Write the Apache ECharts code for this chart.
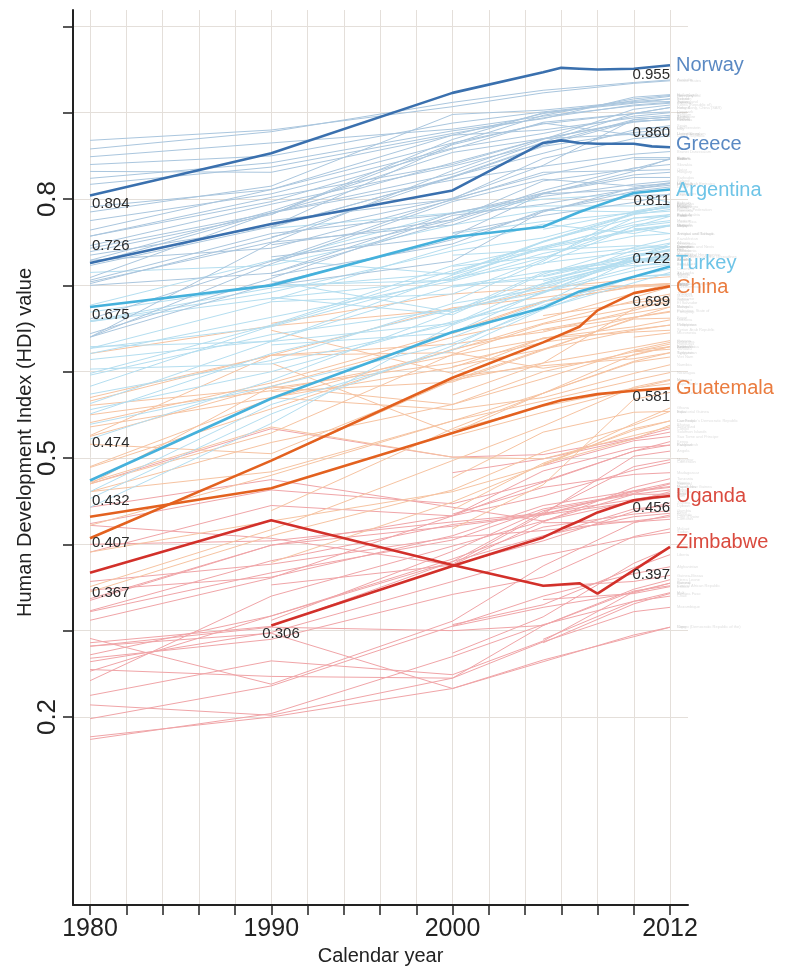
<!DOCTYPE html>
<html>
<head>
<meta charset="utf-8">
<title>HDI trends 1980-2012</title>
<script src="https://cdn.jsdelivr.net/npm/echarts@6/dist/echarts.min.js"></script>
<style>
  html, body { margin: 0; padding: 0; background: #fff; }
  #chart { width: 785px; height: 967px; }
</style>
</head>
<body>
<div id="chart"></div>
<script>
// years of the background trend lines
const years = [1980, 1990, 2000, 2005, 2010, 2012];

// [country, 1980, 1990, 2000, 2005, 2010, 2012]
const veryHigh = [
    ['Australia', 0.858, 0.878, 0.912, 0.926, 0.935, 0.938],
    ['United States', 0.868, 0.880, 0.907, 0.923, 0.934, 0.937],
    ['Netherlands', 0.824, 0.842, 0.879, 0.893, 0.918, 0.921],
    ['Germany', null, 0.782, 0.864, 0.897, 0.916, 0.920],
    ['New Zealand', 0.832, 0.831, 0.874, 0.899, 0.914, 0.919],
    ['Ireland', 0.739, 0.782, 0.869, 0.900, 0.911, 0.916],
    ['Sweden', 0.785, 0.815, 0.898, 0.903, 0.913, 0.916],
    ['Switzerland', 0.840, 0.850, 0.888, 0.901, 0.912, 0.913],
    ['Japan', 0.817, 0.837, 0.876, 0.894, 0.909, 0.912],
    ['Canada', 0.849, 0.865, 0.881, 0.896, 0.908, 0.911],
    ['Korea (Republic of)', 0.640, 0.749, 0.833, 0.869, 0.904, 0.909],
    ['Hong Kong, China (SAR)', 0.709, 0.784, 0.829, 0.866, 0.899, 0.906],
    ['Iceland', 0.757, 0.797, 0.858, 0.889, 0.899, 0.906],
    ['Denmark', 0.791, 0.811, 0.865, 0.887, 0.899, 0.901],
    ['Israel', 0.775, 0.806, 0.859, 0.876, 0.896, 0.900],
    ['Belgium', 0.764, 0.811, 0.874, 0.880, 0.894, 0.897],
    ['Austria', 0.746, 0.794, 0.838, 0.864, 0.892, 0.895],
    ['Singapore', null, 0.756, 0.801, 0.839, 0.892, 0.895],
    ['France', 0.725, 0.784, 0.842, 0.870, 0.889, 0.893],
    ['Finland', 0.757, 0.802, 0.840, 0.870, 0.890, 0.892],
    ['Slovenia', null, 0.767, 0.826, 0.862, 0.890, 0.892],
    ['Spain', 0.702, 0.755, 0.826, 0.853, 0.880, 0.885],
    ['Liechtenstein', null, null, null, null, 0.882, 0.883],
    ['Italy', 0.723, 0.768, 0.825, 0.861, 0.877, 0.881],
    ['Luxembourg', 0.729, 0.786, 0.854, 0.870, 0.875, 0.875],
    ['United Kingdom', 0.735, 0.768, 0.863, 0.888, 0.874, 0.875],
    ['Czech Republic', null, 0.775, 0.800, 0.847, 0.870, 0.873],
    ['Brunei Darussalam', 0.743, 0.784, 0.822, 0.838, 0.852, 0.855],
    ['Cyprus', 0.661, 0.728, 0.800, 0.828, 0.848, 0.848],
    ['Malta', 0.704, 0.750, 0.770, 0.806, 0.832, 0.847],
    ['Andorra', null, null, null, null, 0.846, 0.846],
    ['Estonia', null, 0.728, 0.776, 0.821, 0.835, 0.846],
    ['Slovakia', null, 0.747, 0.776, 0.810, 0.836, 0.840],
    ['Qatar', 0.729, 0.743, 0.799, 0.831, 0.833, 0.834],
    ['Hungary', 0.700, 0.714, 0.774, 0.807, 0.828, 0.831],
    ['Barbados', 0.706, 0.760, 0.783, 0.807, 0.825, 0.825],
    ['Poland', null, 0.714, 0.784, 0.803, 0.817, 0.821],
    ['Chile', 0.640, 0.702, 0.753, 0.785, 0.813, 0.819],
    ['Lithuania', null, 0.733, 0.757, 0.806, 0.811, 0.818],
    ['United Arab Emirates', 0.640, 0.725, 0.797, 0.823, 0.815, 0.818],
    ['Portugal', 0.644, 0.708, 0.781, 0.794, 0.812, 0.816],
    ['Latvia', null, 0.700, 0.728, 0.786, 0.809, 0.814],
    ['Seychelles', null, null, 0.761, 0.781, 0.796, 0.806],
    ['Croatia', null, 0.711, 0.748, 0.787, 0.804, 0.805]
];

const high = [
    ['Bahrain', 0.677, 0.729, 0.784, 0.800, 0.806, 0.796],
    ['Bahamas', null, 0.766, 0.784, 0.792, 0.792, 0.794],
    ['Belarus', null, null, 0.681, 0.728, 0.786, 0.793],
    ['Uruguay', 0.658, 0.692, 0.740, 0.755, 0.783, 0.792],
    ['Montenegro', null, null, null, 0.765, 0.785, 0.791],
    ['Palau', null, null, 0.760, 0.774, 0.784, 0.791],
    ['Kuwait', 0.715, 0.723, 0.770, 0.787, 0.785, 0.790],
    ['Russian Federation', null, 0.730, 0.713, 0.750, 0.782, 0.788],
    ['Romania', 0.669, 0.700, 0.706, 0.751, 0.783, 0.786],
    ['Bulgaria', 0.659, 0.697, 0.714, 0.751, 0.778, 0.782],
    ['Saudi Arabia', 0.583, 0.653, 0.717, 0.743, 0.773, 0.782],
    ['Cuba', 0.627, 0.681, 0.690, 0.730, 0.778, 0.780],
    ['Panama', 0.627, 0.652, 0.709, 0.725, 0.768, 0.780],
    ['Mexico', 0.598, 0.654, 0.723, 0.745, 0.770, 0.775],
    ['Costa Rica', 0.621, 0.663, 0.705, 0.732, 0.768, 0.773],
    ['Grenada', null, null, null, null, 0.765, 0.770],
    ['Libya', null, 0.683, 0.745, 0.771, 0.760, 0.769],
    ['Malaysia', 0.563, 0.635, 0.712, 0.742, 0.763, 0.769],
    ['Serbia', null, null, 0.709, 0.744, 0.764, 0.769],
    ['Antigua and Barbuda', null, null, null, null, 0.766, 0.760],
    ['Trinidad and Tobago', 0.658, 0.685, 0.707, 0.737, 0.757, 0.760],
    ['Kazakhstan', null, 0.686, 0.666, 0.713, 0.744, 0.754],
    ['Albania', 0.603, 0.609, 0.655, 0.702, 0.741, 0.749],
    ['Venezuela', 0.629, 0.635, 0.656, 0.691, 0.732, 0.748],
    ['Dominica', null, null, 0.722, 0.733, 0.743, 0.745],
    ['Georgia', null, null, null, 0.710, 0.733, 0.745],
    ['Lebanon', null, null, null, 0.726, 0.739, 0.745],
    ['Saint Kitts and Nevis', null, null, 0.735, 0.741, 0.746, 0.745],
    ['Iran', 0.443, 0.540, 0.654, 0.692, 0.733, 0.742],
    ['Peru', 0.574, 0.613, 0.679, 0.696, 0.733, 0.741],
    ['Macedonia', null, null, 0.698, 0.711, 0.736, 0.740],
    ['Ukraine', null, 0.705, 0.669, 0.715, 0.733, 0.740],
    ['Mauritius', 0.551, 0.621, 0.672, 0.702, 0.728, 0.737],
    ['Bosnia and Herzegovina', null, null, null, 0.701, 0.728, 0.735],
    ['Azerbaijan', null, null, 0.640, 0.680, 0.730, 0.734],
    ['Saint Vincent and the Grenadines', null, null, null, 0.705, 0.730, 0.733],
    ['Oman', null, null, 0.700, 0.707, 0.729, 0.731],
    ['Brazil', 0.522, 0.590, 0.669, 0.699, 0.726, 0.730],
    ['Jamaica', 0.614, 0.636, 0.699, 0.716, 0.728, 0.730],
    ['Armenia', null, 0.631, 0.645, 0.693, 0.721, 0.729],
    ['Saint Lucia', null, null, null, 0.716, 0.723, 0.725],
    ['Ecuador', 0.596, 0.643, 0.672, 0.692, 0.717, 0.724],
    ['Colombia', 0.556, 0.600, 0.658, 0.681, 0.710, 0.719],
    ['Sri Lanka', 0.539, 0.583, 0.633, 0.673, 0.703, 0.715],
    ['Algeria', 0.461, 0.562, 0.625, 0.672, 0.710, 0.713],
    ['Tunisia', 0.453, 0.551, 0.630, 0.677, 0.710, 0.712]
];

const medium = [
    ['Tonga', null, 0.656, 0.690, 0.697, 0.707, 0.710],
    ['Belize', 0.621, 0.653, 0.672, 0.694, 0.700, 0.702],
    ['Dominican Republic', 0.525, 0.583, 0.640, 0.661, 0.691, 0.702],
    ['Fiji', 0.566, 0.619, 0.674, 0.686, 0.700, 0.702],
    ['Samoa', null, null, 0.644, 0.681, 0.699, 0.702],
    ['Jordan', 0.541, 0.587, 0.646, 0.682, 0.698, 0.700],
    ['Turkmenistan', null, null, null, null, 0.686, 0.698],
    ['Thailand', 0.490, 0.569, 0.625, 0.656, 0.682, 0.690],
    ['Maldives', null, null, 0.573, 0.610, 0.673, 0.688],
    ['Suriname', null, null, null, 0.665, 0.680, 0.684],
    ['Gabon', 0.526, 0.619, 0.632, 0.646, 0.671, 0.683],
    ['El Salvador', 0.470, 0.529, 0.620, 0.655, 0.674, 0.680],
    ['Bolivia', 0.489, 0.557, 0.626, 0.649, 0.668, 0.675],
    ['Mongolia', null, 0.577, 0.588, 0.625, 0.662, 0.675],
    ['Palestine, State of', null, null, null, 0.648, 0.663, 0.670],
    ['Paraguay', 0.550, 0.578, 0.619, 0.638, 0.663, 0.669],
    ['Egypt', 0.407, 0.497, 0.590, 0.626, 0.661, 0.662],
    ['Moldova', null, 0.648, 0.598, 0.639, 0.652, 0.660],
    ['Philippines', 0.561, 0.581, 0.610, 0.634, 0.649, 0.654],
    ['Uzbekistan', null, null, 0.606, 0.626, 0.648, 0.654],
    ['Syrian Arab Republic', 0.536, 0.570, 0.605, 0.639, 0.646, 0.648],
    ['Micronesia', null, null, null, null, 0.640, 0.645],
    ['Guyana', 0.516, 0.505, 0.590, 0.610, 0.628, 0.636],
    ['Botswana', 0.470, 0.583, 0.562, 0.592, 0.625, 0.634],
    ['Honduras', 0.461, 0.518, 0.562, 0.600, 0.623, 0.632],
    ['Indonesia', 0.422, 0.480, 0.543, 0.575, 0.620, 0.629],
    ['Kiribati', null, null, null, null, 0.624, 0.629],
    ['South Africa', 0.570, 0.619, 0.622, 0.604, 0.619, 0.629],
    ['Vanuatu', null, null, null, null, 0.623, 0.626],
    ['Kyrgyzstan', null, null, 0.594, 0.607, 0.615, 0.622],
    ['Tajikistan', null, 0.610, 0.529, 0.575, 0.612, 0.622],
    ['Viet Nam', null, 0.439, 0.534, 0.575, 0.611, 0.617],
    ['Namibia', null, 0.570, 0.556, 0.570, 0.598, 0.608],
    ['Nicaragua', 0.461, 0.484, 0.543, 0.566, 0.590, 0.599],
    ['Morocco', 0.351, 0.417, 0.497, 0.537, 0.582, 0.591],
    ['Iraq', null, null, 0.525, 0.553, 0.580, 0.590],
    ['Cape Verde', null, null, 0.532, 0.560, 0.581, 0.586],
    ['Timor-Leste', null, null, 0.418, 0.469, 0.568, 0.576],
    ['Ghana', 0.391, 0.427, 0.461, 0.491, 0.540, 0.558],
    ['Equatorial Guinea', null, null, 0.477, 0.530, 0.553, 0.554],
    ['India', 0.345, 0.410, 0.463, 0.507, 0.538, 0.554],
    ['Cambodia', null, null, 0.440, 0.494, 0.532, 0.543],
    ['Lao People\'s Democratic Republic', null, 0.379, 0.449, 0.492, 0.534, 0.543],
    ['Bhutan', null, null, null, 0.493, 0.522, 0.538],
    ['Swaziland', 0.472, 0.536, 0.501, 0.499, 0.526, 0.536]
];

const low = [
    ['Congo', 0.470, 0.534, 0.501, 0.504, 0.523, 0.534],
    ['Solomon Islands', null, null, 0.483, 0.499, 0.522, 0.530],
    ['Sao Tome and Principe', null, null, null, 0.491, 0.520, 0.525],
    ['Kenya', 0.424, 0.463, 0.447, 0.473, 0.508, 0.519],
    ['Bangladesh', 0.312, 0.361, 0.433, 0.472, 0.508, 0.515],
    ['Pakistan', 0.337, 0.399, 0.433, 0.485, 0.512, 0.515],
    ['Angola', null, null, 0.377, 0.435, 0.502, 0.508],
    ['Myanmar', 0.286, 0.305, 0.380, 0.437, 0.490, 0.498],
    ['Cameroon', 0.391, 0.445, 0.433, 0.456, 0.486, 0.495],
    ['Madagascar', null, null, 0.435, 0.466, 0.481, 0.483],
    ['Tanzania', null, 0.353, 0.376, 0.426, 0.466, 0.476],
    ['Papua New Guinea', 0.323, 0.381, 0.423, 0.435, 0.461, 0.466],
    ['Yemen', null, 0.312, 0.392, 0.439, 0.458, 0.458],
    ['Senegal', 0.322, 0.367, 0.405, 0.441, 0.459, 0.470],
    ['Nigeria', null, null, null, 0.434, 0.462, 0.471],
    ['Nepal', 0.242, 0.340, 0.398, 0.427, 0.458, 0.463],
    ['Haiti', 0.335, 0.399, 0.421, 0.434, 0.449, 0.456],
    ['Mauritania', 0.347, 0.362, 0.410, 0.445, 0.462, 0.467],
    ['Lesotho', 0.443, 0.475, 0.443, 0.427, 0.450, 0.461],
    ['Togo', 0.400, 0.404, 0.426, 0.436, 0.452, 0.459],
    ['Comoros', null, null, null, 0.425, 0.426, 0.429],
    ['Zambia', 0.422, 0.407, 0.376, 0.404, 0.438, 0.448],
    ['Djibouti', null, null, null, 0.409, 0.441, 0.445],
    ['Rwanda', 0.291, 0.238, 0.311, 0.375, 0.425, 0.434],
    ['Benin', 0.253, 0.317, 0.380, 0.410, 0.432, 0.436],
    ['Gambia', 0.272, 0.317, 0.383, 0.420, 0.435, 0.439],
    ['Sudan', 0.264, 0.298, 0.357, 0.387, 0.408, 0.414],
    ['Côte d\'Ivoire', 0.357, 0.377, 0.408, 0.416, 0.427, 0.432],
    ['Malawi', 0.268, 0.290, 0.342, 0.362, 0.409, 0.418],
    ['Afghanistan', 0.198, 0.236, null, 0.340, 0.366, 0.374],
    ['Ethiopia', null, null, 0.274, 0.316, 0.378, 0.396],
    ['Liberia', null, null, 0.307, 0.330, 0.373, 0.388],
    ['Guinea-Bissau', null, null, null, 0.351, 0.357, 0.364],
    ['Sierra Leone', 0.255, 0.247, 0.245, 0.306, 0.348, 0.359],
    ['Burundi', 0.225, 0.265, 0.249, 0.288, 0.345, 0.355],
    ['Guinea', null, null, 0.305, 0.327, 0.344, 0.355],
    ['Central African Republic', 0.282, 0.304, 0.300, 0.306, 0.346, 0.352],
    ['Eritrea', null, null, null, 0.336, 0.343, 0.351],
    ['Mali', 0.174, 0.204, 0.270, 0.307, 0.334, 0.344],
    ['Burkina Faso', null, null, null, 0.286, 0.331, 0.343],
    ['Chad', null, null, null, 0.290, 0.334, 0.340],
    ['Mozambique', 0.214, 0.202, 0.245, 0.287, 0.322, 0.327],
    ['Congo (Democratic Republic of the)', 0.282, 0.297, 0.233, 0.264, 0.295, 0.304],
    ['Niger', 0.177, 0.200, 0.233, 0.266, 0.293, 0.304]
];

// highlighted countries
const hlYears = [1980, 1990, 2000, 2005, 2006, 2007, 2008, 2010, 2011, 2012];
const norway    = [0.804, 0.853, 0.923, 0.947, 0.952, 0.951, 0.950, 0.951, 0.953, 0.955];
const greece    = [0.726, 0.771, 0.810, 0.865, 0.868, 0.865, 0.864, 0.864, 0.861, 0.860];
const argentina = [0.675, 0.700, 0.756, 0.768, null, 0.785, null, 0.807, null, 0.811];
const turkey    = [0.474, 0.569, 0.646, 0.674, null, 0.693, null, 0.710, null, 0.722];
const china     = [0.407, 0.497, 0.593, 0.634, null, 0.652, 0.671, 0.691, null, 0.699];
const guatemala = [0.432, 0.465, 0.529, 0.561, 0.567, null, 0.574, 0.578, null, 0.581];
const uganda    = [null, 0.306, 0.375, 0.408, 0.418, 0.427, 0.437, 0.451, 0.454, 0.456];
const zimbabwe  = [0.367, 0.428, 0.376, 0.352, null, 0.355, 0.343, null, null, 0.397];

const xTicks = [1980, 1982, 1984, 1986, 1988, 1990, 1992, 1994, 1996, 1998, 2000, 2002, 2004, 2006, 2008, 2010, 2012];
const xLabels = [1980, 1990, 2000, 2012];
const yTicks = [0.2, 0.3, 0.4, 0.5, 0.6, 0.7, 0.8, 0.9, 1.0];
const yLabels = [0.2, 0.5, 0.8];

const FONT = 'Liberation Sans, Arial, Helvetica, sans-serif';

function toPairs(xs, vals) {
    return xs.map((x, i) => [x, vals[i]]).filter(d => d[1] != null);
}

function bgSeries(rows, color) {
    return rows.map(r => ({
        type: 'line',
        name: r[0],
        data: toPairs(years, r.slice(1)),
        showSymbol: false,
        silent: true,
        z: 2,
        lineStyle: { color: color, width: 1 },
        endLabel: {
            show: true,
            formatter: '{a}',
            fontSize: 4,
            fontFamily: FONT,
            color: 'rgba(160,160,160,0.35)',
            distance: 7
        }
    }));
}

// style of each highlighted line: [name, values, line colour, label colour, first label dy, last label dy, name dy]
const hl = [
    ['Norway', norway, '#3a70ae', '#5a89c3', 8, 10, 0],
    ['Greece', greece, '#3a70ae', '#5a89c3', -17, -14, -3],
    ['Argentina', argentina, '#45b1dc', '#6ec4e7', 8, 11, 1],
    ['Turkey', turkey, '#45b1dc', '#6ec4e7', -38, -8, -3],
    ['China', china, '#e3611f', '#ea7c3f', 5, 16, 1],
    ['Guatemala', guatemala, '#e3611f', '#ea7c3f', -16, 9, 0],
    ['Uganda', uganda, '#d2302a', '#da4a3e', 8, 12, 0],
    ['Zimbabwe', zimbabwe, '#d2302a', '#da4a3e', 20, 28, -4]
];

function hlSeries(h) {
    const pts = toPairs(hlYears, h[1]);
    const data = pts.map((p, i) => {
        if (i === 0) {
            return {
                value: p,
                label: {
                    show: true, position: 'right', distance: 2,
                    offset: [h[0] === 'Uganda' ? -11 : 0, h[4]],
                    formatter: p[1].toFixed(3)
                }
            };
        }
        if (i === pts.length - 1) {
            return {
                value: p,
                label: {
                    show: true, position: 'left', distance: 0,
                    offset: [0, h[5]],
                    formatter: p[1].toFixed(3)
                }
            };
        }
        return { value: p };
    });
    return {
        type: 'line',
        name: h[0],
        data: data,
        symbol: 'circle',
        symbolSize: 0,
        showSymbol: true,
        silent: true,
        z: 5,
        lineStyle: { color: h[2], width: 2.6 },
        itemStyle: { color: h[2] },
        label: {
            show: false,
            fontSize: 15,
            fontFamily: FONT,
            color: '#2b2b2b'
        },
        endLabel: {
            show: true,
            formatter: '{a}',
            fontSize: 20,
            fontFamily: FONT,
            color: h[3],
            distance: 6,
            offset: [0, h[6]]
        }
    };
}

const series = []
    .concat(bgSeries(low, '#f0a4a7'))
    .concat(bgSeries(medium, '#f6c3a1'))
    .concat(bgSeries(high, '#b4def0'))
    .concat(bgSeries(veryHigh, '#aac6de'))
    .concat(hl.map(hlSeries));

const chart = echarts.init(document.getElementById('chart'), null, { renderer: 'canvas' });

chart.setOption({
    animation: false,
    backgroundColor: '#fff',
    grid: {
        left: 73,
        right: 97,
        top: 10,
        bottom: 62,
        containLabel: false,
        outerBoundsMode: 'none'
    },
    xAxis: {
        type: 'value',
        min: 1979.062,
        max: 2012.993,
        name: 'Calendar year',
        nameLocation: 'middle',
        nameGap: 41,
        nameTextStyle: { fontSize: 20, fontFamily: FONT, color: '#222' },
        axisLine: { show: true, onZero: false, lineStyle: { color: '#222', width: 2 } },
        axisTick: { show: true, length: 10, customValues: xTicks, lineStyle: { color: '#222', width: 1.5 } },
        axisLabel: {
            show: true,
            customValues: xLabels,
            fontSize: 25,
            fontFamily: FONT,
            color: '#222',
            margin: 12,
            formatter: v => String(v)
        },
        splitLine: { show: true, lineStyle: { color: '#e4dfda', width: 1 } }
    },
    yAxis: {
        type: 'value',
        min: -0.0178,
        max: 1.019,
        name: 'Human Development Index (HDI) value',
        nameLocation: 'middle',
        nameGap: 38,
        nameRotate: 90,
        nameMoveOverlap: false,
        nameTextStyle: { fontSize: 20, fontFamily: FONT, color: '#222', padding: [0, 0, 0, 30] },
        axisLine: { show: true, onZero: false, lineStyle: { color: '#222', width: 2 } },
        axisTick: { show: true, length: 10, customValues: yTicks, lineStyle: { color: '#222', width: 1.5 } },
        axisLabel: {
            show: true,
            customValues: yLabels,
            rotate: 90,
            fontSize: 26,
            fontFamily: FONT,
            color: '#222',
            margin: 12,
            formatter: v => String(+v.toFixed(1))
        },
        splitLine: { show: true, lineStyle: { color: '#e4dfda', width: 1 } }
    },
    series: series
});
</script>
</body>
</html>
